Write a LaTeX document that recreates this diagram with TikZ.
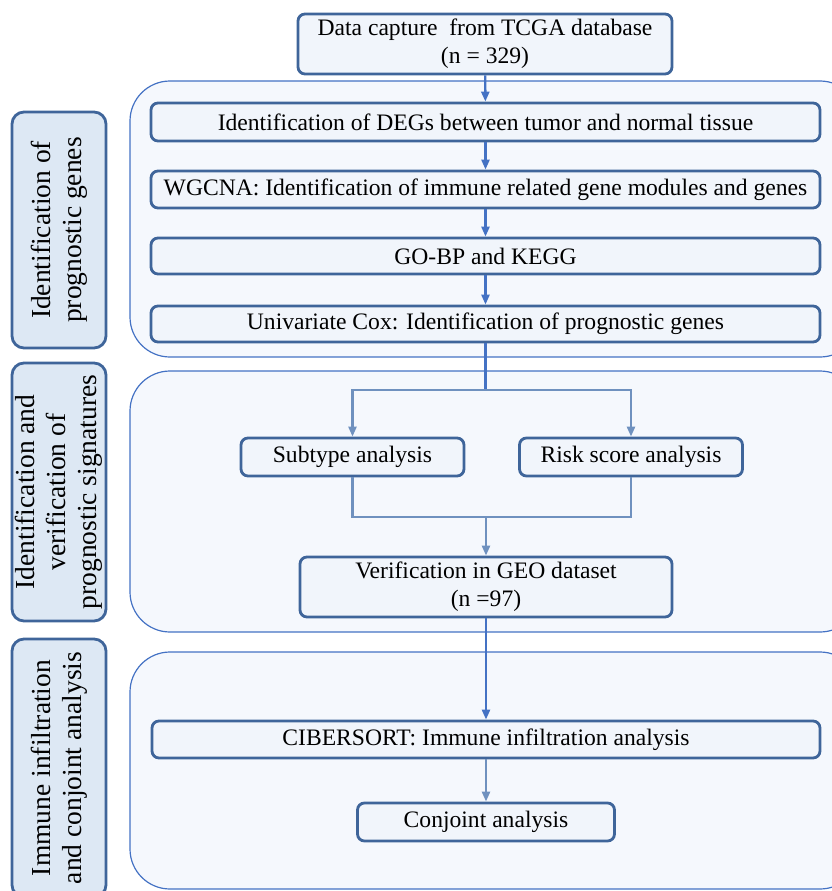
\documentclass[tikz,border=0pt]{standalone}
\usepackage{fontspec}
\setmainfont{Liberation Serif}
\usepackage{xcolor}
\usetikzlibrary{arrows.meta}

\definecolor{boxline}{HTML}{3F659A}
\definecolor{boxfill}{HTML}{F1F5FB}
\definecolor{tagfill}{HTML}{DDE8F4}
\definecolor{panelline}{HTML}{4472C4}
\definecolor{panelfill}{HTML}{F5F8FD}
\definecolor{mainarrow}{HTML}{4472C4}
\definecolor{subarrow}{HTML}{6F91BF}

\begin{document}
\begin{tikzpicture}[x=1pt,y=-1pt,
  stepbox/.style={draw=boxline,line width=2.8pt,fill=boxfill,rounded corners=7pt,
    inner sep=0pt,align=center,font=\fontsize{23.6}{28}\selectfont},
  tagbox/.style={draw=boxline,line width=2.8pt,fill=tagfill,rounded corners=12pt,
    inner sep=0pt,align=center,rotate=90,font=\fontsize{27.5}{31}\selectfont},
  panel/.style={draw=panelline,line width=1.2pt,fill=panelfill,rounded corners=40pt},
  mainline/.style={draw=mainarrow,line width=2.4pt},
  subline/.style={draw=subarrow,line width=2.4pt},
  tip/.style={-{Triangle[length=10pt,width=8pt]}}]

  \useasboundingbox (0,0) rectangle (831,891);

  % Panels
  \draw[panel] (130,81) rectangle (860,357);
  \draw[panel] (130,371) rectangle (860,632);
  \draw[panel] (130,652) rectangle (860,889);

  % Side labels
  \node[tagbox,minimum width=236pt,minimum height=94pt] (TagGenes) at (59,230)
    {Identification of\\prognostic genes};
  \node[tagbox,minimum width=258pt,minimum height=94pt] (TagSign) at (59,492)
    {Identification and\\verification of\\prognostic signatures};
  \node[tagbox,minimum width=258pt,minimum height=94pt] (TagImmune) at (59,768)
    {Immune infiltration\\and conjoint analysis};

  % Steps
  \node[stepbox,minimum width=374pt,minimum height=60pt] (Capture) at (485,44)
    {Data capture\ \ from TCGA database\\(n = 329)};
  \node[stepbox,minimum width=669pt,minimum height=38pt] (DEGs) at (485.5,122)
    {Identification of DEGs between tumor and normal tissue};
  \node[stepbox,minimum width=669pt,minimum height=37pt] (WGCNA) at (485.5,189.5)
    {WGCNA: Identification of immune related gene modules and genes};
  \node[stepbox,minimum width=669pt,minimum height=36pt] (GOBP) at (485.5,256)
    {GO-BP and KEGG};
  \node[stepbox,minimum width=669pt,minimum height=36pt] (UniCox) at (485.5,324)
    {Univariate Cox: Identification of prognostic genes};

  \node[stepbox,minimum width=223pt,minimum height=38pt] (Subtype) at (352.5,457)
    {Subtype analysis};
  \node[stepbox,minimum width=223pt,minimum height=38pt] (RiskScore) at (631,457)
    {Risk score analysis};
  \node[stepbox,minimum width=372pt,minimum height=60pt] (GEO) at (486,587)
    {Verification in GEO dataset\\(n =97)};

  \node[stepbox,minimum width=668pt,minimum height=37pt] (Cibersort) at (486,739.5)
    {CIBERSORT: Immune infiltration analysis};
  \node[stepbox,minimum width=257pt,minimum height=38pt] (Conjoint) at (486,822)
    {Conjoint analysis};

  \coordinate (Split) at (UniCox.south |- 0,390);
  \coordinate (Merge) at (GEO.north |- 0,517);

  % Arrows
  \draw[mainline,tip] (Capture) -- (DEGs);
  \draw[mainline,tip] (DEGs) -- (WGCNA);
  \draw[mainline,tip] (WGCNA) -- (GOBP);
  \draw[mainline,tip] (GOBP) -- (UniCox);
  \draw[mainline] (UniCox.south) -- (Split);
  \draw[subline,tip] (Split) -| (Subtype.north);
  \draw[subline,tip] (Split) -| (RiskScore.north);
  \draw[subline] (Subtype.south) |- (Merge) -| (RiskScore.south);
  \draw[subline,tip] (Merge) -- (GEO.north);
  \draw[mainline,tip] (GEO) -- (Cibersort);
  \draw[subline,tip] (Cibersort) -- (Conjoint);

\end{tikzpicture}
\end{document}
